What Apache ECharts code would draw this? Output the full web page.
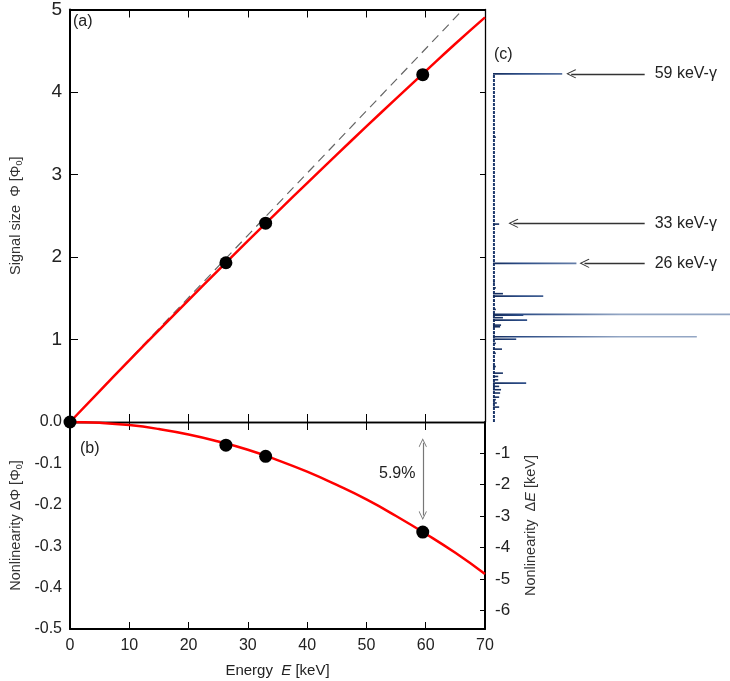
<!DOCTYPE html>
<html>
<head>
<meta charset="utf-8">
<script src="https://cdn.jsdelivr.net/npm/echarts@6/dist/echarts.min.js"></script>
<style>html,body{margin:0;padding:0;background:#fff}#c{width:730px;height:681px}</style>
</head>
<body>
<div id="c"></div>
<script>
// ---- data ----
var energyPts = [0, 26.3, 33.0, 59.5];          // keV
var signalPts = [0, 1.93, 2.41, 4.21];          // Phi0
var nonlinEnergyPts = [26.3, 33.0, 59.5];
var nonlinPts = [-0.056, -0.083, -0.266];       // Phi0

var curveE = [0, 5, 10, 15, 20, 25, 30, 35, 40, 45, 50, 55, 60, 65, 70];
var curvePhi = [0, 0.375, 0.747, 1.114, 1.478, 1.838, 2.195, 2.547, 2.896, 3.241, 3.583, 3.920, 4.254, 4.585, 4.905];
var curveDPhi = [0, -0.002, -0.0075, -0.017, -0.030, -0.047, -0.067, -0.092, -0.120, -0.152, -0.187, -0.227, -0.270, -0.316, -0.367];

var linearE = [0, 66.3];
var linearPhi = [0, 5];

// spectrum (c): signal size and counts
var specPhi = [4.205, 3.44, 3.16, 2.39, 1.916, 1.69, 1.62, 1.55, 1.52, 1.46, 1.36, 1.30, 1.29, 1.26, 1.23, 1.17, 1.15, 1.07, 1.03, 1.00, 0.95, 0.88, 0.83, 0.75, 0.67, 0.59, 0.55, 0.51, 0.47, 0.43, 0.39, 0.35, 0.30, 0.27, 0.23, 0.18, 0.12, 0.00];
var specCounts = [146, 6, 4, 13, 176, 4, 6, 21, 106, 4, 6, 600, 64, 21, 72, 17, 15, 4, 430, 49, 6, 19, 6, 4, 6, 21, 11, 11, 70, 13, 17, 15, 13, 6, 8, 13, 2, 2];
var specBase = [[2, 0], [2, 4.21]];

var peakLabels = ['59 keV-γ', '33 keV-γ', '26 keV-γ'];
var peakPhi = [4.205, 2.40, 1.916];
var arrowFrom = [165, 43, 193];
var arrowTo = [320, 320, 320];

var xTicksMin = 0, xTicksMax = 70;

// ---- chart ----
var FONT = 'Arial, "Liberation Sans", sans-serif';
var chart = echarts.init(document.getElementById('c'));

var specData = specPhi.map(function (p, i) { return [specCounts[i], p]; });
var arrowPath = 'path://M0,0 L7,11 L6,12 L0,2.6 L-6,12 L-7,11 Z';

var peakLines = peakLabels.map(function (t, i) {
  return [
    { coord: [arrowFrom[i], peakPhi[i]], symbol: arrowPath },
    { coord: [arrowTo[i], peakPhi[i]], symbol: 'none', label: { show: true, formatter: t, position: 'end', distance: 10, color: '#222', fontSize: 16, fontFamily: FONT } }
  ];
});

function baseX(grid, pos, showLabel, tickLen) {
  return {
    type: 'value', gridIndex: grid, position: pos, min: xTicksMin, max: xTicksMax, interval: 10,
    axisLine: { show: true, onZero: false, lineStyle: { color: '#000', width: pos === 'top' && grid === 0 ? 2 : (grid === 1 && pos === 'bottom' ? 2 : 1.3) } },
    axisTick: { show: true, inside: true, length: tickLen, lineStyle: { color: '#000', width: 1 } },
    axisLabel: { show: showLabel, fontSize: 16, color: '#222', fontFamily: FONT, margin: 9 },
    splitLine: { show: false }
  };
}

var xB = baseX(1, 'bottom', true, 7);
xB.name = 'Energy  {it|E} [keV]';
xB.nameLocation = 'middle';
xB.nameGap = 34;
xB.nameTextStyle = { fontSize: 15, color: '#222', fontFamily: FONT, rich: { it: { fontStyle: 'italic', fontSize: 15, fontFamily: FONT, color: '#222' } } };

var subRich = { sub: { fontSize: 9, fontFamily: FONT, color: '#333', padding: [7, 0, 0, 0] } };

var option = {
  animation: false,
  backgroundColor: '#fff',
  grid: [
    { left: 70, top: 8, width: 415, height: 414 },
    { left: 70, top: 422, width: 415, height: 207 },
    { left: 493, top: 8, right: 0, height: 414 }
  ],
  xAxis: [
    baseX(0, 'bottom', false, 8),
    baseX(0, 'top', false, 8),
    xB,
    baseX(1, 'top', false, 8),
    { type: 'value', gridIndex: 2, min: 0, max: 500, show: false }
  ],
  yAxis: [
    {
      type: 'value', gridIndex: 0, position: 'left', min: 0, max: 5, interval: 1,
      axisLine: { show: true, onZero: false, lineStyle: { color: '#000', width: 2 } },
      axisTick: { show: true, inside: true, length: 8, lineStyle: { color: '#000' } },
      axisLabel: { fontSize: 19, color: '#222', fontFamily: FONT, margin: 8, formatter: function (v) { return v === 0 ? '' : v; } },
      splitLine: { show: false },
      name: 'Signal size  Φ [Φ{sub|0}]', nameLocation: 'middle', nameGap: 46, nameRotate: 90,
      nameTextStyle: { fontSize: 14.5, color: '#333', fontFamily: FONT, rich: subRich }
    },
    {
      type: 'value', gridIndex: 0, position: 'right', min: 0, max: 5, interval: 1,
      axisLine: { show: true, onZero: false, lineStyle: { color: '#000', width: 1.3 } },
      axisTick: { show: true, inside: true, length: 5, lineStyle: { color: '#000' } },
      axisLabel: { show: false }, splitLine: { show: false }
    },
    {
      type: 'value', gridIndex: 1, position: 'left', min: -0.5, max: 0, interval: 0.1,
      axisLine: { show: true, onZero: false, lineStyle: { color: '#000', width: 2 } },
      axisTick: { show: false },
      axisLabel: { fontSize: 16, color: '#222', fontFamily: FONT, margin: 8, formatter: function (v) { return v.toFixed(1); } },
      splitLine: { show: false },
      name: 'Nonlinearity ΔΦ [Φ{sub|0}]', nameLocation: 'middle', nameGap: 46, nameRotate: 90,
      nameTextStyle: { fontSize: 14.5, color: '#333', fontFamily: FONT, rich: subRich }
    },
    {
      type: 'value', gridIndex: 1, position: 'right', min: -6.6, max: 0, splitNumber: 7,
      axisLine: { show: true, onZero: false, lineStyle: { color: '#000', width: 2 } },
      axisTick: { show: true, inside: true, length: 5, lineStyle: { color: '#000' } },
      axisLabel: { fontSize: 17, color: '#222', fontFamily: FONT, margin: 10, formatter: function (v) { return (v === 0 || Math.abs(v - Math.round(v)) > 1e-6) ? '' : String(v); } },
      splitLine: { show: false },
      name: 'Nonlinearity  Δ{it|E} [keV]', nameLocation: 'middle', nameGap: 38, nameRotate: 90,
      nameTextStyle: { fontSize: 14.5, color: '#333', fontFamily: FONT, rich: { it: { fontStyle: 'italic', fontSize: 14.5, fontFamily: FONT, color: '#333' } } }
    },
    { type: 'value', gridIndex: 2, min: 0, max: 5, show: false }
  ],
  series: [
    {
      type: 'line', xAxisIndex: 0, yAxisIndex: 0, data: linearE.map(function (e, i) { return [e, linearPhi[i]]; }),
      showSymbol: false, lineStyle: { color: '#666', width: 1.2, type: [9, 6] }, z: 2
    },
    {
      type: 'line', xAxisIndex: 0, yAxisIndex: 0, data: curveE.map(function (e, i) { return [e, curvePhi[i]]; }),
      showSymbol: false, smooth: true, lineStyle: { color: '#ff0000', width: 2.5 }, z: 3
    },
    {
      type: 'scatter', xAxisIndex: 0, yAxisIndex: 0, data: energyPts.map(function (e, i) { return [e, signalPts[i]]; }),
      symbolSize: 13, itemStyle: { color: '#000', opacity: 1 }, z: 4, clip: false
    },
    {
      type: 'line', xAxisIndex: 2, yAxisIndex: 2, data: curveE.map(function (e, i) { return [e, curveDPhi[i]]; }),
      showSymbol: false, smooth: true, lineStyle: { color: '#ff0000', width: 2.5 }, z: 3,
      markLine: {
        silent: true, symbol: [arrowPath, arrowPath], symbolSize: [8, 9],
        lineStyle: { color: '#777', width: 1.2, type: 'solid' }, label: { show: false },
        data: [[{ coord: [59.5, -0.05] }, { coord: [59.5, -0.226] }]]
      },
      markPoint: {
        silent: true, symbol: 'circle', symbolSize: 0,
        label: { show: true, position: 'inside', formatter: '5.9%', fontSize: 16, color: '#222', fontFamily: FONT },
        data: [{ coord: [55.2, -0.124] }]
      }
    },
    {
      type: 'scatter', xAxisIndex: 2, yAxisIndex: 2, data: nonlinEnergyPts.map(function (e, i) { return [e, nonlinPts[i]]; }),
      symbolSize: 13, itemStyle: { color: '#000', opacity: 1 }, z: 4
    },
    {
      type: 'custom', xAxisIndex: 4, yAxisIndex: 4, data: specData, clip: true, z: 3,
      renderItem: function (params, api) {
        var p0 = api.coord([0, api.value(1)]);
        var p1 = api.coord([api.value(0), api.value(1)]);
        return {
          type: 'line',
          shape: { x1: p0[0], y1: p0[1], x2: p1[0], y2: p1[1] },
          style: {
            lineWidth: 1.6,
            stroke: new echarts.graphic.LinearGradient(494, 0, 620, 0, [
              { offset: 0, color: '#142c5c' }, { offset: 0.2, color: '#2a4a84' }, { offset: 1, color: '#93a6c4' }
            ], true)
          }
        };
      }
    },
    {
      type: 'line', xAxisIndex: 4, yAxisIndex: 4, data: specBase, showSymbol: false,
      lineStyle: { color: '#1f3a6e', width: 2, type: [3, 1] }, z: 2,
      markLine: {
        silent: true, symbolSize: [9, 10],
        lineStyle: { color: '#333', width: 1.3, type: 'solid' },
        data: peakLines
      }
    }
  ],
  graphic: [
    { type: 'text', left: 73, top: 14, style: { text: '(a)', font: '16px ' + FONT, fill: '#222' } },
    { type: 'text', left: 80, top: 441, style: { text: '(b)', font: '16px ' + FONT, fill: '#222' } },
    { type: 'text', left: 494, top: 47, style: { text: '(c)', font: '16px ' + FONT, fill: '#222' } }
  ]
};
chart.setOption(option);
</script>
</body>
</html>
